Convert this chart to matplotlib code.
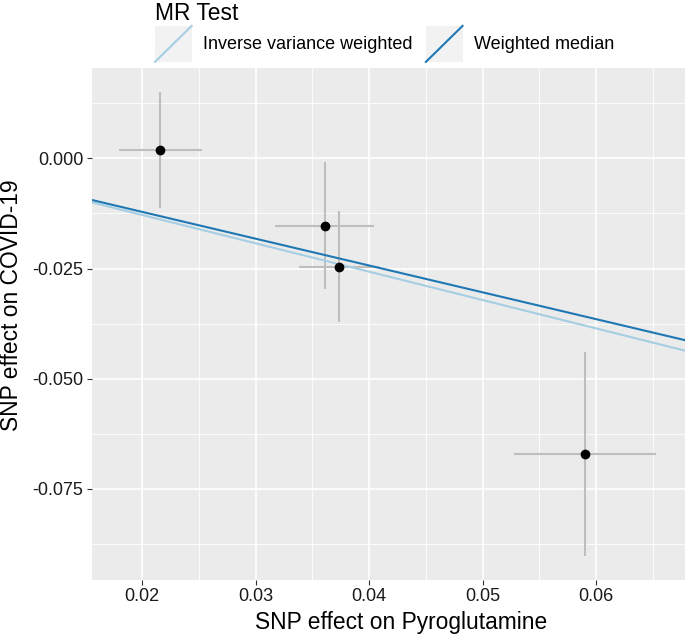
import matplotlib
matplotlib.use("Agg")
import matplotlib.pyplot as plt
from matplotlib.patches import Rectangle
from matplotlib.lines import Line2D
from matplotlib.legend_handler import HandlerBase

plt.rcParams['font.family'] = ['Liberation Sans', 'DejaVu Sans']
plt.rcParams['axes.unicode_minus'] = False

# data
snp_x = [0.02159, 0.0361, 0.03736, 0.0590]
snp_y = [0.00181, -0.01528, -0.02458, -0.0671]
se_x = [0.00366, 0.00436, 0.00354, 0.00626]
se_y = [0.01316, 0.0144, 0.01266, 0.0231]

methods = ["Inverse variance weighted", "Weighted median"]
slopes = [-0.643, -0.608]
colors = ["#A6CEE3", "#1F78B4"]

x_ticks = [0.02, 0.03, 0.04, 0.05, 0.06]
x_tick_labels = ["0.02", "0.03", "0.04", "0.05", "0.06"]
y_ticks = [0.0, -0.025, -0.05, -0.075]
y_tick_labels = ["0.000", "-0.025", "-0.050", "-0.075"]
x_minor = [0.025, 0.035, 0.045, 0.055, 0.065]
y_minor = [0.0125, -0.0125, -0.0375, -0.0625, -0.0875]

W, H = 685, 639
fig = plt.figure(figsize=(W / 100, H / 100), dpi=100)
ax = fig.add_axes([91.7 / W, 1 - 580 / H, (W - 91.7) / W, (580 - 67.7) / H])
ax.set_facecolor("#EBEBEB")
for s in ax.spines.values():
    s.set_visible(False)

ax.set_xlim(0.01554, 0.06784)
ax.set_ylim(-0.09565, 0.02055)
ax.set_xticks(x_ticks)
ax.set_xticklabels(x_tick_labels)
ax.set_yticks(y_ticks)
ax.set_yticklabels(y_tick_labels)
ax.set_xticks(x_minor, minor=True)
ax.set_yticks(y_minor, minor=True)
ax.grid(which="major", color="white", lw=1.2)
ax.grid(which="minor", color="white", lw=0.6)
ax.set_axisbelow(True)
ax.tick_params(which="major", length=3.5, width=0.8, color="#333333",
               labelsize=13, labelcolor="#1A1A1A", pad=2.5)
ax.tick_params(which="minor", length=0)

ax.errorbar(snp_x, snp_y, xerr=se_x, yerr=se_y, fmt="none",
            ecolor="#BEBEBE", elinewidth=1.5, capsize=0, zorder=2)
ax.plot(snp_x, snp_y, "o", color="black", ms=6, zorder=4)

handles = []
for m, sl, c in zip(methods, slopes, colors):
    ax.axline((0, 0), slope=sl, color=c, lw=1.5, zorder=3)
    handles.append(Line2D([], [], color=c, lw=1.5, label=m))

ax.set_xlabel("SNP effect on Pyroglutamine", fontsize=16.4, color="black")
ax.set_ylabel("SNP effect on COVID-19", fontsize=16.4, color="black")
ax.xaxis.set_label_coords((401 - 91.7) / (W - 91.7), -(622 - 580) / (580 - 67.7), transform=ax.transAxes)
ax.xaxis.label.set_va("center")
ax.yaxis.set_label_coords(-(91.7 - 12) / (W - 91.7), (580 - 305) / (580 - 67.7), transform=ax.transAxes)
ax.yaxis.label.set_va("center")


class KeyHandler(HandlerBase):
    def create_artists(self, legend, orig_handle, xdescent, ydescent,
                       width, height, fontsize, trans):
        r = Rectangle((-xdescent, -ydescent), width, height,
                      facecolor="#F2F2F2", edgecolor="none", transform=trans)
        ln = Line2D([-xdescent, -xdescent + width], [-ydescent, -ydescent + height],
                    color=orig_handle.get_color(), lw=1.5, transform=trans)
        return [r, ln]


leg = fig.legend(handles=handles, loc="upper left", bbox_to_anchor=(155 / W, 1 - 2 / H),
                 ncol=2, frameon=False, fontsize=13, title="MR Test",
                 title_fontsize=16.4, handlelength=2.03, handleheight=2.69,
                 handletextpad=0.65, columnspacing=0.72, borderpad=0.0,
                 labelspacing=0.05, borderaxespad=0, alignment="left",
                 handler_map={Line2D: KeyHandler()})

fig.savefig("out.png", dpi=100)
